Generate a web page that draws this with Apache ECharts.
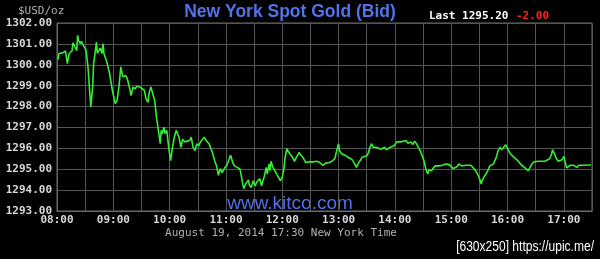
<!DOCTYPE html>
<html><head><meta charset="utf-8">
<script src="https://cdn.jsdelivr.net/npm/echarts@6/dist/echarts.min.js"></script>
<style>html,body{margin:0;padding:0;background:#000}#c{width:600px;height:259px}</style>
</head><body><div id="c"></div>
<script>
// minutes after 08:00 New York time
const minutes = [
 1,2,4,6,8,9,11,13,14,16,
 17,19,21,22,23,25,26,28,31,33,
 35,36,38,39,41,42,43,45,46,48,
 49,50,53,56,59,62,64,66,68,70,
 73,75,77,79,81,83,85,88,90,93,
 95,97,98,100,102,104,106,108,110,111,
 112,114,115,117,119,121,123,125,127,130,
 132,134,136,138,141,143,145,147,149,151,
 153,155,157,159,162,164,166,168,170,172,
 174,176,179,181,183,185,187,189,192,195,
 196,198,199,201,204,205,207,209,211,213,
 216,218,219,221,223,224,226,227,228,230,
 232,234,236,238,240,242,243,245,247,249,
 251,253,255,258,260,262,265,268,270,273,
 276,279,281,283,286,290,293,296,298,300,
 301,303,305,307,310,312,314,316,319,321,
 323,325,327,330,332,333,335,337,340,342,
 345,347,349,351,353,355,357,359,362,364,
 366,369,372,374,377,379,381,383,385,387,
 389,391,393,395,396,399,401,403,405,407,
 409,411,414,416,418,420,422,424,426,428,
 431,433,436,438,441,443,446,448,450,452,
 453,455,457,459,461,463,465,468,470,472,
 474,476,478,480,483,485,487,489,491,493,
 495,498,500,502,504,506,508,510,513,517,
 520,522,525,527,528,530,532,534,536,538,
 540,542,543,545,547,550,552,554,556,559,
 562,566,569
];
const bidPrices = [
 1300.25,1300.54,1300.48,1300.57,1300.48,1300.67,1300.06,1300.54,1300.48,1300.67,
 1301.05,1300.99,1300.67,1301.41,1301.15,1301.02,1301.12,1300.93,1300.70,1299.90,
 1298.62,1297.98,1298.94,1300.06,1300.70,1301.09,1300.54,1300.61,1300.80,1300.54,
 1301.02,1300.54,1300.16,1299.58,1298.78,1298.14,1298.30,1298.94,1299.90,1299.42,
 1299.49,1299.32,1298.94,1298.52,1298.94,1298.84,1298.97,1298.94,1299.00,1298.78,
 1298.36,1298.20,1298.62,1298.94,1298.87,1298.30,1297.49,1296.86,1296.22,1296.86,
 1296.70,1297.01,1296.70,1296.86,1296.05,1295.41,1296.05,1296.53,1296.86,1296.53,
 1296.05,1296.44,1296.31,1296.37,1296.37,1296.53,1296.05,1295.89,1296.22,1296.12,
 1296.31,1296.22,1296.53,1296.37,1296.22,1296.22,1295.74,1295.41,1295.16,1294.71,
 1295.03,1294.84,1295.09,1295.19,1295.25,1295.67,1295.35,1295.16,1295.09,1295.00,
 1294.93,1294.29,1294.07,1294.29,1294.49,1294.23,1294.13,1294.45,1294.20,1294.39,
 1294.55,1294.20,1294.39,1294.68,1295.09,1294.77,1295.25,1294.93,1295.38,1295.09,
 1294.93,1294.77,1294.61,1294.45,1294.61,1295.09,1295.57,1295.99,1295.80,1295.74,
 1295.57,1295.38,1295.57,1295.80,1295.67,1295.57,1295.32,1295.35,1295.38,1295.35,
 1295.38,1295.35,1295.28,1295.19,1295.28,1295.32,1295.38,1295.51,1295.89,1296.22,
 1295.89,1295.74,1295.74,1295.67,1295.57,1295.64,1295.48,1295.35,1295.09,1295.28,
 1295.41,1295.57,1295.57,1295.64,1295.80,1295.99,1296.22,1296.05,1296.05,1295.99,
 1295.96,1295.99,1296.05,1295.93,1295.99,1296.05,1295.99,1296.12,1296.31,1296.22,
 1296.31,1296.34,1296.37,1296.24,1296.31,1296.18,1296.34,1296.22,1296.05,1295.89,
 1295.89,1295.41,1295.00,1294.77,1294.97,1294.93,1295.06,1295.16,1295.19,1295.16,
 1295.09,1295.19,1295.25,1295.32,1295.22,1295.16,1295.03,1294.97,1295.12,1295.25,
 1295.16,1295.19,1295.19,1295.19,1295.19,1295.09,1294.93,1294.77,1294.58,1294.29,
 1294.45,1294.64,1294.77,1294.93,1295.16,1295.09,1295.25,1295.57,1295.89,1296.05,
 1295.93,1296.05,1296.17,1296.08,1295.74,1295.67,1295.57,1295.57,1295.41,1295.35,
 1295.19,1295.09,1295.03,1294.93,1295.09,1295.25,1295.35,1295.41,1295.38,1295.38,
 1295.38,1295.32,1295.51,1295.74,1295.93,1295.74,1295.51,1295.38,1295.38,1295.45,
 1295.61,1295.64,1295.06,1295.06,1295.19,1295.19,1295.16,1295.09,1295.19,1295.19,
 1295.19,1295.20,1295.20
];
const hourLabels = ['08:00','09:00','10:00','11:00','12:00','13:00','14:00','15:00','16:00','17:00'];
const yMin = 1293, yMax = 1302, yStep = 1;
const titleText = 'New York Spot Gold (Bid)';
const unitText = '$USD/oz';
const lastText = 'Last 1295.20';
const changeText = '-2.00';
const siteText = 'www.kitco.com';
const dateText = 'August 19, 2014 17:30 New York Time';
const stampText = '[630x250] https://upic.me/';

const seriesData = minutes.map((m, i) => [m, bidPrices[i]]);
const mono = '"DejaVu Sans Mono", monospace';
const chart = echarts.init(document.getElementById('c'), null, {renderer: 'canvas'});
chart.setOption({
  backgroundColor: '#000',
  animation: false,
  grid: {left: 57, right: 8, top: 23, bottom: 48, show: true, borderColor: '#6a6a6a', borderWidth: 1},
  xAxis: {
    type: 'value', min: 0, max: 570, interval: 30,
    axisLine: {show: true, lineStyle: {color: '#6a6a6a'}},
    axisTick: {show: false},
    splitLine: {show: true, lineStyle: {color: '#555', width: 1}},
    axisLabel: {
      color: '#d8d8d8', fontFamily: mono, fontSize: 11, fontWeight: 'bold', margin: 4,
      formatter: v => (v % 60 === 0 && hourLabels[v / 60]) ? hourLabels[v / 60] : ''
    }
  },
  yAxis: {
    type: 'value', min: yMin, max: yMax, interval: yStep,
    axisLine: {show: true, lineStyle: {color: '#6a6a6a'}},
    axisTick: {show: false},
    splitLine: {show: true, lineStyle: {color: '#555', width: 1}},
    axisLabel: {color: '#d8d8d8', fontFamily: mono, fontSize: 11, fontWeight: 'bold', margin: 5,
      formatter: v => v.toFixed(2)}
  },
  series: [{
    type: 'line', data: seriesData, showSymbol: false, symbol: 'none',
    lineStyle: {color: '#33ee33', width: 1.6}
  }],
  graphic: [
    {type: 'text', x: 290, y: 12, style: {text: titleText, fill: '#5273ea', font: 'bold 17.5px "Liberation Sans", Arial, sans-serif', textAlign: 'center', textVerticalAlign: 'middle'}},
    {type: 'text', x: 18, y: 11, style: {text: unitText, fill: '#b0b0b0', font: '11px ' + mono, textAlign: 'left', textVerticalAlign: 'middle'}},
    {type: 'text', x: 429, y: 16, style: {text: lastText, fill: '#ffffff', font: 'bold 11px ' + mono, textAlign: 'left', textVerticalAlign: 'middle'}},
    {type: 'text', x: 516, y: 16, style: {text: changeText, fill: '#ff2020', font: 'bold 11px ' + mono, textAlign: 'left', textVerticalAlign: 'middle'}},
    {type: 'text', x: 290, y: 204, style: {text: siteText, fill: '#4f70ec', font: '19px "Liberation Sans", Arial, sans-serif', textAlign: 'center', textVerticalAlign: 'middle'}},
    {type: 'text', x: 281, y: 233, style: {text: dateText, fill: '#b0b0b0', font: '11px ' + mono, textAlign: 'center', textVerticalAlign: 'middle'}},
    {type: 'text', x: 594, y: 247, scaleX: 0.86, style: {text: stampText, fill: '#ffffff', font: '14px "Liberation Sans", sans-serif', textAlign: 'right', textVerticalAlign: 'middle'}}
  ]
});
</script></body></html>
